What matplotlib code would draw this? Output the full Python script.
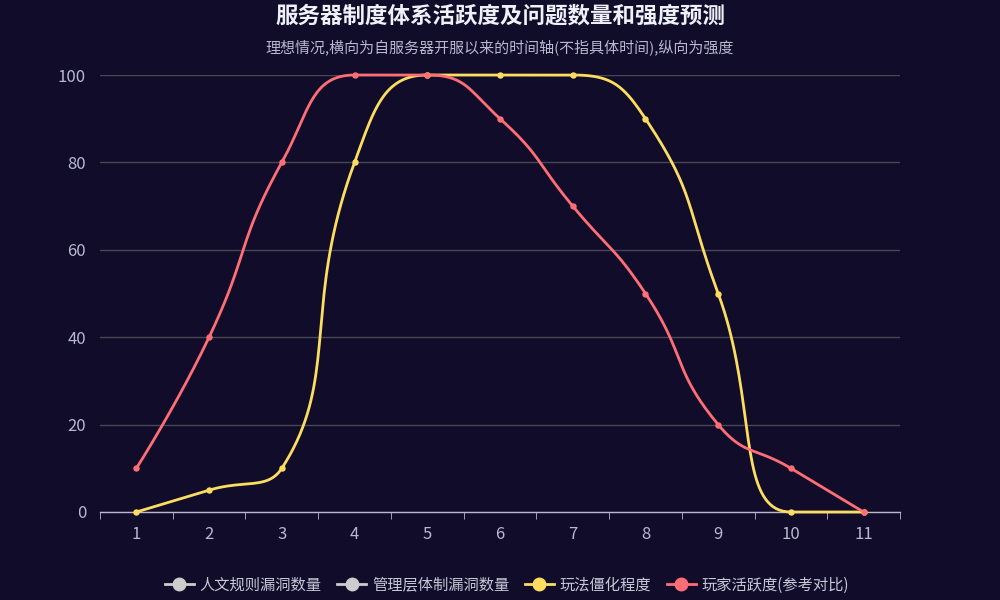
import numpy as np
import matplotlib.pyplot as plt
from matplotlib.lines import Line2D

plt.rcParams['font.family'] = ['Noto Sans CJK SC', 'DejaVu Sans']

# data
categories = ['1', '2', '3', '4', '5', '6', '7', '8', '9', '10', '11']
rigidity = [0, 5, 10, 80, 100, 100, 100, 90, 50, 0, 0]          # 玩法僵化程度
activity = [10, 40, 80, 100, 100, 90, 70, 50, 20, 10, 0]        # 玩家活跃度(参考对比)
legend_names = ['人文规则漏洞数量', '管理层体制漏洞数量', '玩法僵化程度', '玩家活跃度(参考对比)']

BG = '#100c2a'
YELLOW = '#fddd60'
RED = '#ff6e76'
AXIS = '#b9b8ce'
GRID = '#484753'

# pixel scale of the plot area (used so the smoothing looks like echarts)
PX_X = 800 / 11
PX_Y = 437 / 100


def smooth_curve(values, smooth=0.5, n=40):
    # echarts-style bezier smoothing, done in pixel space
    pts = [(i * PX_X, -v * PX_Y) for i, v in enumerate(values)]
    m = len(pts)
    segs = []
    cp0 = pts[0]
    for k in range(1, m):
        x, y = pts[k]
        px, py = pts[k - 1]
        if k < m - 1:
            nx, ny = pts[k + 1]
            vx, vy = nx - px, ny - py
            l0 = np.hypot(x - px, y - py)
            l1 = np.hypot(nx - x, ny - y)
            r = l1 / (l1 + l0)
            c1x = x + vx * smooth * r
            c1y = y + vy * smooth * r
            c1x = min(c1x, max(nx, x)); c1y = min(c1y, max(ny, y))
            c1x = max(c1x, min(nx, x)); c1y = max(c1y, min(ny, y))
            vx, vy = c1x - x, c1y - y
            c0x = x - vx * l0 / l1
            c0y = y - vy * l0 / l1
            c0x = min(c0x, max(px, x)); c0y = min(c0y, max(py, y))
            c0x = max(c0x, min(px, x)); c0y = max(c0y, min(py, y))
            vx, vy = x - c0x, y - c0y
            c1x = x + vx * l1 / l0
            c1y = y + vy * l1 / l0
        else:
            c0x, c0y = x, y
            c1x, c1y = x, y
        segs.append((pts[k - 1], cp0, (c0x, c0y), (x, y)))
        cp0 = (c1x, c1y)
    t = np.linspace(0, 1, n)[:, None]
    out = []
    for p0, a, b, p3 in segs:
        p0, a, b, p3 = map(np.array, (p0, a, b, p3))
        out.append((1 - t) ** 3 * p0 + 3 * (1 - t) ** 2 * t * a + 3 * (1 - t) * t ** 2 * b + t ** 3 * p3)
    out = np.vstack(out)
    return out[:, 0] / PX_X, -out[:, 1] / PX_Y


fig = plt.figure(figsize=(10, 6), dpi=100, facecolor=BG)
ax = fig.add_axes([0.1, 1 - 512 / 600, 0.8, 437 / 600])
ax.set_facecolor(BG)

xs = np.arange(len(categories))
for vals, col in [(rigidity, YELLOW), (activity, RED)]:
    sx, sy = smooth_curve(vals)
    ax.plot(sx, sy, color=col, linewidth=2, solid_capstyle='round', zorder=3, clip_on=False)
    ax.plot(xs, vals, 'o', color=col, markersize=3.6, zorder=4, clip_on=False)

ax.set_xlim(-0.5, len(categories) - 0.5)
ax.set_ylim(0, 100)
ax.set_yticks([0, 20, 40, 60, 80, 100])
ax.set_xticks(xs)
ax.set_xticklabels(categories)
ax.set_xticks(np.arange(-0.5, len(categories)), minor=True)

for s in ['top', 'right', 'left']:
    ax.spines[s].set_visible(False)
ax.spines['bottom'].set_color(AXIS)
ax.spines['bottom'].set_linewidth(1)
ax.yaxis.grid(True, color=GRID, linewidth=1)
ax.set_axisbelow(True)
ax.tick_params(axis='y', length=0, pad=10, labelsize=12, labelcolor=AXIS)
ax.tick_params(axis='x', which='major', length=0, pad=10, labelsize=12, labelcolor=AXIS)
ax.tick_params(axis='x', which='minor', length=5, color=AXIS, direction='out')

fig.text(0.5, 1 - 16 / 600, '服务器制度体系活跃度及问题数量和强度预测', ha='center', va='center',
         fontsize=16.2, fontweight='bold', color='#eef1fa')
fig.text(0.5, 1 - 47 / 600, '理想情况,横向为自服务器开服以来的时间轴(不指具体时间),纵向为强度',
         ha='center', va='center', fontsize=10.8, color=AXIS)

handles = [Line2D([], [], color=c, marker='o', markersize=9, linewidth=2)
           for c in ['#cccccc', '#cccccc', YELLOW, RED]]
leg = fig.legend(handles, legend_names, loc='center', bbox_to_anchor=(0.507, 1 - 585 / 600),
                 ncol=4, frameon=False, fontsize=11, handlelength=1.9, handletextpad=0.4,
                 columnspacing=1.0, labelcolor='#c8c7d8')

fig.savefig('out.png', dpi=100, facecolor=BG)
